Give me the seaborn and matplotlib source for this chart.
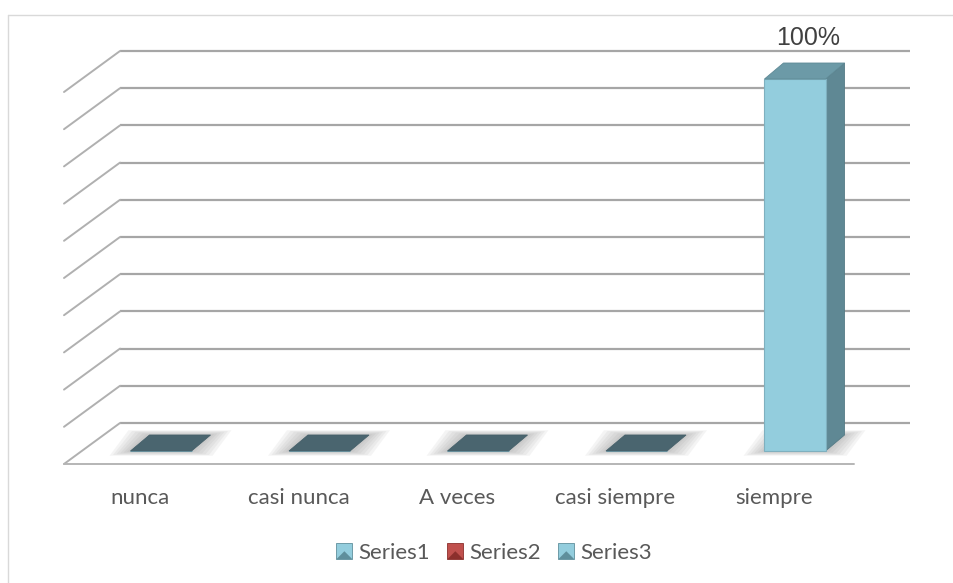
import numpy as np
import pandas as pd
import matplotlib.pyplot as plt
import seaborn as sns
from matplotlib.patches import Polygon, Patch, Rectangle
from matplotlib.legend_handler import HandlerBase

# Dados do gráfico
categorias = ['nunca', 'casi nunca', 'A veces', 'casi siempre', 'siempre']
serie1 = [0.0, 0.0, 0.0, 0.0, 1.0]
rotulos = ['', '', '', '', '100%']
series_legenda = ['Series1', 'Series2', 'Series3']
cores_legenda = ['#93cddd', '#c0504d', '#93cddd']
escuras_legenda = ['#5f8f9c', '#8c2f2c', '#5f8f9c']
niveis_grade = np.round(np.arange(0, 1.01, 0.1), 2)

dados = pd.DataFrame({'categoria': categorias, 'valor': serie1})

sns.set_theme(style='white')
plt.rcParams['font.family'] = ['Lato', 'DejaVu Sans']

fig = plt.figure(figsize=(9.54, 5.83), dpi=100)
ax = fig.add_axes([0, 0, 1, 1])

# escala em pixels por unidade de dado (eixo ocupa toda a figura)
SX, SY = 158.5, 372.0
ax_xlim = (-161 / SX, (954 - 161) / SX)
ax_ylim = (-132 / SY, (583 - 132) / SY)

def px(d):
    return d / SX

def py(d):
    return d / SY

# profundidade da barra e da parede
bdx, bdy = px(19), py(16)
parede_dy = py(28)
parede_x0, parede_x1 = px(120 - 161), px(910 - 161)
diag_dx, diag_dy = px(56), py(41)

# barras frontais com seaborn
sns.barplot(data=dados, x='categoria', y='valor', width=0.385, color='#93cddd',
            saturation=1, edgecolor='#7fb0bf', linewidth=0.8, ax=ax, zorder=5)
barras = list(ax.patches)

# moldura externa: só as bordas de cima e da esquerda aparecem
ax.axhline(py(451 - 14.5), xmin=8.5 / 954, xmax=1.0, color='#d9d9d9', lw=1.0)
ax.axvline(px(8.5 - 161), ymin=0.0, ymax=1 - 14.5 / 583, color='#d9d9d9', lw=1.0)

# grade da parede de fundo e diagonais da parede lateral
for v in niveis_grade:
    yb = v + parede_dy
    ax.plot([parede_x0, parede_x1], [yb, yb], color='#a6a6a6', lw=1.6, zorder=1,
            solid_capstyle='butt')
    ax.plot([parede_x0 - diag_dx, parede_x0], [yb - diag_dy, yb], color='#b0b0b0',
            lw=1.4, zorder=1)

# borda frontal do piso
piso_y = parede_dy - diag_dy
ax.plot([parede_x0 - diag_dx, parede_x1 - diag_dx], [piso_y, piso_y],
        color='#b5b5b5', lw=1.4, zorder=1)

for barra in barras:
    x0 = barra.get_x()
    x1 = x0 + barra.get_width()
    h = barra.get_height()
    # sombra suave no piso
    for k in range(6, 0, -1):
        ex, ey = px(3.5 * k), py(0.8 * k)
        sombra = [(x0 - ex, -ey), (x0 + bdx - ex, bdy + ey),
                  (x1 + bdx + ex, bdy + ey), (x1 + ex, -ey)]
        ax.add_patch(Polygon(sombra, closed=True, facecolor='#707070', alpha=0.07,
                             edgecolor='none', zorder=2))
    if h > 0:
        lado = [(x1, 0), (x1, h), (x1 + bdx, h + bdy), (x1 + bdx, bdy)]
        ax.add_patch(Polygon(lado, closed=True, facecolor='#5f8894',
                             edgecolor='#557b86', lw=0.6, zorder=4))
        topo = [(x0, h), (x0 + bdx, h + bdy), (x1 + bdx, h + bdy), (x1, h)]
        ax.add_patch(Polygon(topo, closed=True, facecolor='#6c9aa7',
                             edgecolor='#5f8a96', lw=0.6, zorder=6))
    else:
        topo = [(x0, 0), (x0 + bdx, bdy), (x1 + bdx, bdy), (x1, 0)]
        ax.add_patch(Polygon(topo, closed=True, facecolor='#4a656f',
                             edgecolor='#46606a', lw=0.6, zorder=6))

# rótulo de valor
for i, (v, r) in enumerate(zip(serie1, rotulos)):
    if r:
        ax.text(i + px(13), v + bdy + py(25), r, ha='center', va='center',
                fontsize=18, color='#404040', family=['Liberation Sans', 'DejaVu Sans'])

# rótulos das categorias
for i, c in enumerate(categorias):
    ax.text(i - px(21), py(-47), c, ha='center', va='center', fontsize=16,
            color='#595959')

ax.set_xlim(*ax_xlim)
ax.set_ylim(*ax_ylim)
ax.axis('off')


class MarcadorChanfrado(HandlerBase):
    def __init__(self, escura):
        super().__init__()
        self.escura = escura

    def create_artists(self, legend, orig_handle, xdescent, ydescent, width, height,
                       fontsize, trans):
        lado = min(width, height)
        x0, y0 = -xdescent, -ydescent + (height - lado) / 2
        base = Rectangle((x0, y0), lado, lado, facecolor=orig_handle.get_facecolor(),
                         edgecolor=self.escura, lw=0.6, transform=trans)
        tri = Polygon([(x0, y0), (x0 + lado / 2, y0 + lado / 2), (x0 + lado, y0)],
                      closed=True, facecolor=self.escura, edgecolor='none',
                      transform=trans)
        return [base, tri]


alcas = [Patch(facecolor=fc, label=s) for s, fc in zip(series_legenda, cores_legenda)]
mapa = {h: MarcadorChanfrado(e) for h, e in zip(alcas, escuras_legenda)}
fig.legend(handles=alcas, handler_map=mapa, loc='center',
           bbox_to_anchor=(494 / 954, 1 - 553 / 583),
           ncol=3, frameon=False, fontsize=16, labelcolor='#595959',
           handlelength=0.72, handleheight=0.72, handletextpad=0.25,
           columnspacing=0.8)

fig.savefig('out.png', dpi=100)
